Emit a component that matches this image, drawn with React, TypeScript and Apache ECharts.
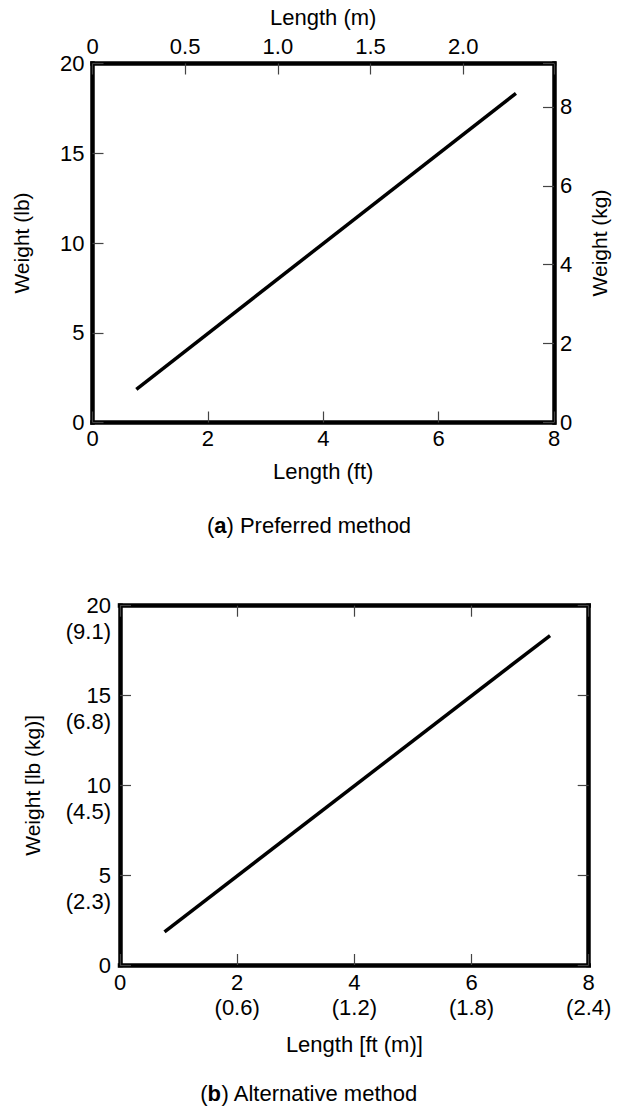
import React, { useEffect, useRef } from "react";
import * as echarts from "echarts";

// ---- data ----
const lengthFt = [0.76, 7.34];
const weightLb = [1.85, 18.34];

// axis ticks / labels
const ftTicks = [0, 2, 4, 6, 8];
const meterTickLabels = ["0", "0.5", "1.0", "1.5", "2.0"];
const lbTicks = [0, 5, 10, 15, 20];
const kgTickLabels = ["0", "2", "4", "6", "8"];
const ftMeterLabels = ["", "(0.6)", "(1.2)", "(1.8)", "(2.4)"];
const lbKgLabels = ["", "(2.3)", "(4.5)", "(6.8)", "(9.1)"];

const M_MAX = 2.49; // top axis extent (m) matching 8 ft
const KG_MAX = 9.1; // right axis extent (kg) matching 20 lb

const FONT = "'Liberation Sans', Arial, Helvetica, sans-serif";
const FS = 22;
const FS_ROT = 21;

export default function App() {
  const ref = useRef<HTMLDivElement>(null);
  useEffect(() => {
    document.body.style.margin = "0";
    const chart = echarts.init(ref.current!, null, { renderer: "svg" });
    const txt = { fontFamily: FONT, fontSize: FS, color: "#000", fontWeight: "normal" as const };
    const rotTxt = { ...txt, fontSize: FS_ROT };
    const axisLine = { show: true, onZero: false, lineStyle: { color: "#000", width: 4.5, cap: "square" } };
    const tick = { show: true, inside: true, length: 11, lineStyle: { color: "#444", width: 1.2 } };
    const noSplit = { show: false };
    const pairs = lengthFt.map((x, i) => [x, weightLb[i]]);

    const option: any = {
      animation: false,
      backgroundColor: "#fff",
      title: [
        {
          text: "{n|(}{b|a}{n|) Preferred method}",
          left: "center",
          top: 514,
          padding: 0,
          textStyle: { fontWeight: "normal", rich: { n: { ...txt }, b: { ...txt, fontWeight: "bold" } } },
        },
        {
          text: "{n|(}{b|b}{n|) Alternative method}",
          left: "center",
          top: 1082,
          padding: 0,
          textStyle: { fontWeight: "normal", rich: { n: { ...txt }, b: { ...txt, fontWeight: "bold" } } },
        },
      ],
      grid: [
        { left: 92.5, top: 63.5, width: 469, height: 359, containLabel: false },
        { left: 120, top: 605.7, width: 468.7, height: 359.3, containLabel: false },
      ],
      xAxis: [
        {
          gridIndex: 0, type: "value", position: "bottom", min: 0, max: 8, interval: 2,
          axisLine, axisTick: tick, splitLine: noSplit,
          axisLabel: { ...txt, margin: 5, showMinLabel: true, showMaxLabel: true,
            formatter: (v: number) => (ftTicks.includes(v) ? String(v) : "") },
          name: "Length (ft)", nameLocation: "middle", nameGap: 38, nameTextStyle: { ...txt },
          nameMoveOverlap: false,
        },
        {
          gridIndex: 0, type: "value", position: "top", min: 0, max: M_MAX, interval: 0.5,
          axisLine, axisTick: tick, splitLine: noSplit,
          axisLabel: { ...txt, margin: 6, showMinLabel: true, showMaxLabel: true,
            formatter: (v: number) => {
              const i = Math.round(v / 0.5);
              return Math.abs(v - i * 0.5) < 1e-6 && i < meterTickLabels.length ? meterTickLabels[i] : "";
            } },
          name: "Length (m)", nameLocation: "middle", nameGap: 35, nameTextStyle: { ...txt },
          nameMoveOverlap: false,
        },
        {
          gridIndex: 1, type: "value", position: "bottom", min: 0, max: 8, interval: 2,
          axisLine, axisTick: tick, splitLine: noSplit,
          axisLabel: { ...txt, margin: 5, lineHeight: 25, showMinLabel: true, showMaxLabel: true,
            formatter: (v: number) => {
              const i = ftTicks.indexOf(v);
              if (i < 0) return "";
              return ftMeterLabels[i] ? `${v}\n${ftMeterLabels[i]}` : String(v);
            } },
          name: "Length [ft (m)]", nameLocation: "middle", nameGap: 68, nameTextStyle: { ...txt },
          nameMoveOverlap: false,
        },
        {
          gridIndex: 1, type: "value", position: "top", min: 0, max: 8, interval: 2,
          axisLine, axisTick: tick, splitLine: noSplit, axisLabel: { show: false },
        },
      ],
      yAxis: [
        {
          gridIndex: 0, type: "value", position: "left", min: 0, max: 20, interval: 5,
          axisLine, axisTick: tick, splitLine: noSplit,
          axisLabel: { ...txt, margin: 8, showMinLabel: true, showMaxLabel: true,
            formatter: (v: number) => (lbTicks.includes(v) ? String(v) : "") },
          name: "Weight (lb)", nameLocation: "middle", nameGap: 61, nameTextStyle: { ...rotTxt },
          nameMoveOverlap: false,
        },
        {
          gridIndex: 0, type: "value", position: "right", min: 0, max: KG_MAX, interval: 2,
          axisLine, axisTick: tick, splitLine: noSplit,
          axisLabel: { ...txt, margin: 6, showMinLabel: true, showMaxLabel: true,
            formatter: (v: number) => {
              const i = Math.round(v / 2);
              return Math.abs(v - i * 2) < 1e-6 && i < kgTickLabels.length ? kgTickLabels[i] : "";
            } },
          name: "Weight (kg)", nameLocation: "middle", nameGap: 35, nameTextStyle: { ...rotTxt },
          nameMoveOverlap: false,
        },
        {
          gridIndex: 1, type: "value", position: "left", min: 0, max: 20, interval: 5,
          axisLine, axisTick: tick, splitLine: noSplit,
          axisLabel: { ...txt, margin: 9, lineHeight: 26, align: "right", verticalAlign: "middle",
            showMinLabel: true, showMaxLabel: true,
            formatter: (v: number) => {
              const i = lbTicks.indexOf(v);
              if (i < 0) return "";
              return lbKgLabels[i] ? ` \n${v}\n${lbKgLabels[i]}` : String(v);
            } },
          name: "Weight [lb (kg)]", nameLocation: "middle", nameGap: 77, nameTextStyle: { ...rotTxt },
          nameMoveOverlap: false,
        },
        {
          gridIndex: 1, type: "value", position: "right", min: 0, max: 20, interval: 5,
          axisLine, axisTick: tick, splitLine: noSplit, axisLabel: { show: false },
        },
      ],
      series: [
        {
          type: "line", xAxisIndex: 0, yAxisIndex: 0, data: pairs, showSymbol: false, symbol: "none",
          lineStyle: { color: "#000", width: 3.5 }, silent: true,
        },
        {
          type: "line", xAxisIndex: 2, yAxisIndex: 2, data: pairs, showSymbol: false, symbol: "none",
          lineStyle: { color: "#000", width: 3.5 }, silent: true,
        },
      ],
    };
    chart.setOption(option);
    return () => chart.dispose();
  }, []);
  return (
    <div
      ref={ref}
      style={{ position: "absolute", left: 0, top: 0, width: 618, height: 1106, background: "#fff" }}
    />
  );
}
